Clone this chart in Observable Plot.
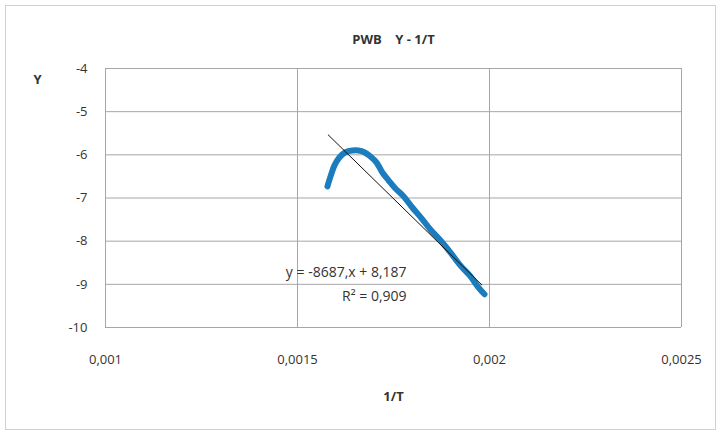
<!DOCTYPE html>
<html>
<head>
<meta charset="utf-8">
<script src="https://cdn.jsdelivr.net/npm/d3@7"></script>
<script src="https://cdn.jsdelivr.net/npm/@observablehq/plot@0.6"></script>
<style>
  body { margin: 0; background: #fff; }
  svg { font-family: "Open Sans", sans-serif; }
</style>
</head>
<body>
<div id="chart"></div>
<script>
// Data (1/T vs Y)
const invT = [0.001578, 0.001586, 0.001596, 0.001609, 0.001625, 0.001643, 0.001659, 0.001674, 0.00169, 0.001706, 0.001721, 0.001737, 0.001755, 0.001776, 0.001799, 0.001823, 0.001846, 0.001872, 0.001898, 0.001924, 0.00195, 0.001971, 0.001987];
const yVals = [-6.73, -6.50, -6.25, -6.06, -5.94, -5.90, -5.90, -5.94, -6.04, -6.18, -6.41, -6.59, -6.78, -6.96, -7.22, -7.47, -7.73, -7.98, -8.26, -8.56, -8.81, -9.07, -9.23];
const xTicks = [0.001, 0.0015, 0.002, 0.0025];
const yTicks = [-4, -5, -6, -7, -8, -9, -10];
const slope = -8687, intercept = 8.187;
const trendX = [0.00158, 0.00198];
const eqLabels = ["y = -8687,x + 8,187", "R² = 0,909"];
const eqY = [-8.72, -9.28];
const eqX = 0.001784;

const data = invT.map((x, i) => ({x, y: yVals[i]}));
const trend = trendX.map(x => ({x, y: slope * x + intercept}));
const eq = eqLabels.map((t, i) => ({t, x: eqX, y: eqY[i]}));
const fmt = v => String(v).replace(".", ",");

const grid = "#a6a6a6";
const ink = "#333333";
const plot = Plot.plot({
  width: 721,
  height: 434,
  marginLeft: 105,
  marginRight: 40,
  marginTop: 68,
  marginBottom: 107,
  style: {fontSize: "13px", color: ink, background: "#fff"},
  x: {domain: [0.001, 0.0025], label: null},
  y: {domain: [-10, -4], label: null},
  marks: [
    Plot.gridX(xTicks, {stroke: grid, strokeOpacity: 1}),
    Plot.gridY(yTicks, {stroke: grid, strokeOpacity: 1}),
    Plot.axisX({ticks: xTicks, tickFormat: fmt, tickSize: 0, tickPadding: 27, fill: ink, fontSize: 13}),
    Plot.axisY({ticks: yTicks, tickFormat: fmt, tickSize: 0, tickPadding: 18, fill: ink, fontSize: 13}),
    Plot.line(data, {x: "x", y: "y", stroke: "#1b7dbd", strokeWidth: 6, strokeLinecap: "round", strokeLinejoin: "round", curve: "catmull-rom"}),
    Plot.line(trend, {x: "x", y: "y", stroke: "#111", strokeWidth: 1}),
    Plot.text(eq, {x: "x", y: "y", text: "t", textAnchor: "end", fontSize: 14, fill: ink}),
    Plot.text(["PWB    Y - 1/T"], {frameAnchor: "top", dy: -34, fontSize: 13, fontWeight: "bold", fill: ink}),
    Plot.text(["Y"], {frameAnchor: "top-left", dx: -72, dy: 6, fontSize: 13, fontWeight: "bold", fill: ink}),
    Plot.text(["1/T"], {frameAnchor: "bottom", dy: 73, fontSize: 13, fontWeight: "bold", fill: ink})
  ]
});
d3.select(plot).append("rect")
  .attr("x", 5.5).attr("y", 5.5).attr("width", 710).attr("height", 424)
  .attr("fill", "none").attr("stroke", "#d0d0d0");
document.getElementById("chart").append(plot);
</script>
</body>
</html>
